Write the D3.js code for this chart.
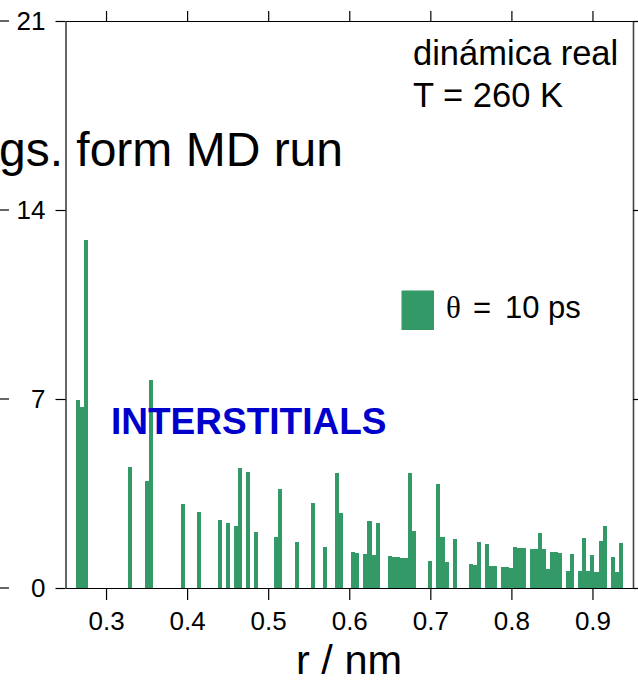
<!DOCTYPE html>
<html>
<head>
<meta charset="utf-8">
<script src="https://cdn.jsdelivr.net/npm/d3@7"></script>
<style>
  html, body { margin: 0; padding: 0; background: #fff; }
  svg { display: block; }
  text { font-family: Arial, "Liberation Sans", sans-serif; }
</style>
</head>
<body>
<svg id="chart" width="638" height="683"></svg>
<script>
// Histogram bin centres (nm) and counts for the theta = 10 ps run
const binCenters = [
  0.265, 0.270, 0.275, 0.330, 0.350, 0.355, 0.395, 0.415, 0.440, 0.450,
  0.460, 0.465, 0.475, 0.485, 0.510, 0.515, 0.535, 0.555, 0.570, 0.585,
  0.590, 0.605, 0.610, 0.620, 0.625, 0.630, 0.635, 0.650, 0.655, 0.660,
  0.665, 0.670, 0.675, 0.680, 0.700, 0.710, 0.715, 0.720, 0.730, 0.750,
  0.755, 0.760, 0.770, 0.775, 0.780, 0.790, 0.795, 0.800, 0.805, 0.810,
  0.815, 0.825, 0.830, 0.835, 0.840, 0.845, 0.850, 0.855, 0.860, 0.870,
  0.875, 0.885, 0.890, 0.895, 0.900, 0.905, 0.910, 0.915, 0.925, 0.930,
  0.935
];
const counts = [
  6.96, 6.69, 12.89, 4.47, 3.96, 7.70, 3.11, 2.81, 2.52, 2.40,
  2.31, 4.46, 4.30, 2.06, 1.90, 3.67, 1.69, 3.16, 1.52, 4.26,
  2.77, 1.35, 1.30, 1.26, 2.48, 1.21, 2.40, 1.17, 1.14, 1.13,
  1.10, 1.10, 4.25, 2.10, 1.00, 3.84, 1.90, 0.97, 1.81, 0.88,
  0.86, 1.69, 1.64, 0.80, 0.80, 0.79, 0.78, 0.75, 1.52, 1.47,
  1.47, 1.43, 1.43, 2.05, 1.43, 0.70, 1.35, 1.34, 1.31, 0.63,
  1.25, 0.63, 1.84, 0.63, 1.22, 0.58, 1.75, 2.31, 1.14, 0.58,
  1.68
];
const binWidth = 0.005;
const xTicks = [0.3, 0.4, 0.5, 0.6, 0.7, 0.8, 0.9];
const yTicks = [0, 7, 14, 21];

const svg = d3.select("#chart");
const plotLeft = 65.5, plotRight = 633, plotTop = 21, plotBottom = 588;

const x = d3.scaleLinear().domain([0.25, 0.95]).range([plotLeft, plotRight]);
const y = d3.scaleLinear().domain([0, 21]).range([plotBottom, plotTop]);

const bins = binCenters.map((c, i) => ({ c, v: counts[i] }));

// bars
svg.append("g")
  .selectAll("rect")
  .data(bins)
  .join("rect")
  .attr("x", d => x(d.c - binWidth / 2))
  .attr("width", d => x(d.c + binWidth / 2) - x(d.c - binWidth / 2))
  .attr("y", d => y(d.v))
  .attr("height", d => y(0) - y(d.v))
  .attr("fill", "#339966")
  .attr("shape-rendering", "crispEdges");

// axes
function styleAxis(g) {
  g.select(".domain").attr("stroke", "#000").attr("stroke-width", 1.2);
  g.selectAll(".tick line").attr("stroke", "#000").attr("stroke-width", 1.2);
  g.selectAll(".tick text").attr("fill", "#000")
    .style("font-family", "Arial, 'Liberation Sans', sans-serif");
}

svg.append("g")
  .attr("transform", `translate(0,${plotBottom})`)
  .call(d3.axisBottom(x).tickValues(xTicks).tickSize(12).tickPadding(12)
    .tickSizeOuter(0).tickFormat(d3.format(".1f")))
  .call(styleAxis)
  .call(g => g.selectAll(".tick text").attr("font-size", 26));

svg.append("g")
  .attr("transform", `translate(0,${plotTop})`)
  .call(d3.axisTop(x).tickValues(xTicks).tickSize(10).tickSizeOuter(0).tickFormat(""))
  .call(styleAxis);

svg.append("g")
  .attr("transform", `translate(${plotLeft},0)`)
  .call(d3.axisLeft(y).tickValues(yTicks).tickSize(10).tickPadding(10).tickSizeOuter(0))
  .call(styleAxis)
  .call(g => g.selectAll(".tick text").attr("font-size", 26));

svg.append("g")
  .attr("transform", `translate(${plotRight},0)`)
  .call(d3.axisRight(y).tickValues(yTicks).tickSize(10).tickSizeOuter(0).tickFormat(""))
  .call(styleAxis)
  .call(g => g.select(".domain").attr("stroke", "#444").attr("stroke-width", 1.6));

// short edge ticks at the far left
svg.append("g")
  .selectAll("line")
  .data(yTicks)
  .join("line")
  .attr("x1", 0).attr("x2", 9)
  .attr("y1", d => y(d)).attr("y2", d => y(d))
  .attr("stroke", "#000").attr("stroke-width", 1.2);

// titles and annotations
svg.append("text")
  .attr("x", 343).attr("y", 166)
  .attr("text-anchor", "end")
  .attr("font-size", 48)
  .text("gs. form MD run");

svg.append("text")
  .attr("x", 413).attr("y", 65)
  .attr("font-size", 34.5)
  .text("dinámica real");

svg.append("text")
  .attr("x", 413).attr("y", 106.5)
  .attr("font-size", 34.5)
  .text("T = 260 K");

svg.append("text")
  .attr("x", 111).attr("y", 434)
  .attr("font-size", 37)
  .attr("font-weight", "bold")
  .attr("fill", "#0000cc")
  .text("INTERSTITIALS");

// legend
svg.append("rect")
  .attr("x", 401.5).attr("y", 290.5)
  .attr("width", 32.5).attr("height", 39.5)
  .attr("fill", "#339966");

const leg = svg.append("g").attr("font-size", 31);
leg.append("text")
  .attr("x", 446).attr("y", 318)
  .style("font-family", "'Liberation Serif', 'DejaVu Serif', serif")
  .text("θ");
leg.append("text").attr("x", 473).attr("y", 318).text("=");
leg.append("text").attr("x", 505).attr("y", 318).text("10");
leg.append("text").attr("x", 548).attr("y", 318).text("ps");

// x axis title
svg.append("text")
  .attr("x", 349).attr("y", 674)
  .attr("text-anchor", "middle")
  .attr("font-size", 41.5)
  .text("r / nm");
</script>
</body>
</html>
